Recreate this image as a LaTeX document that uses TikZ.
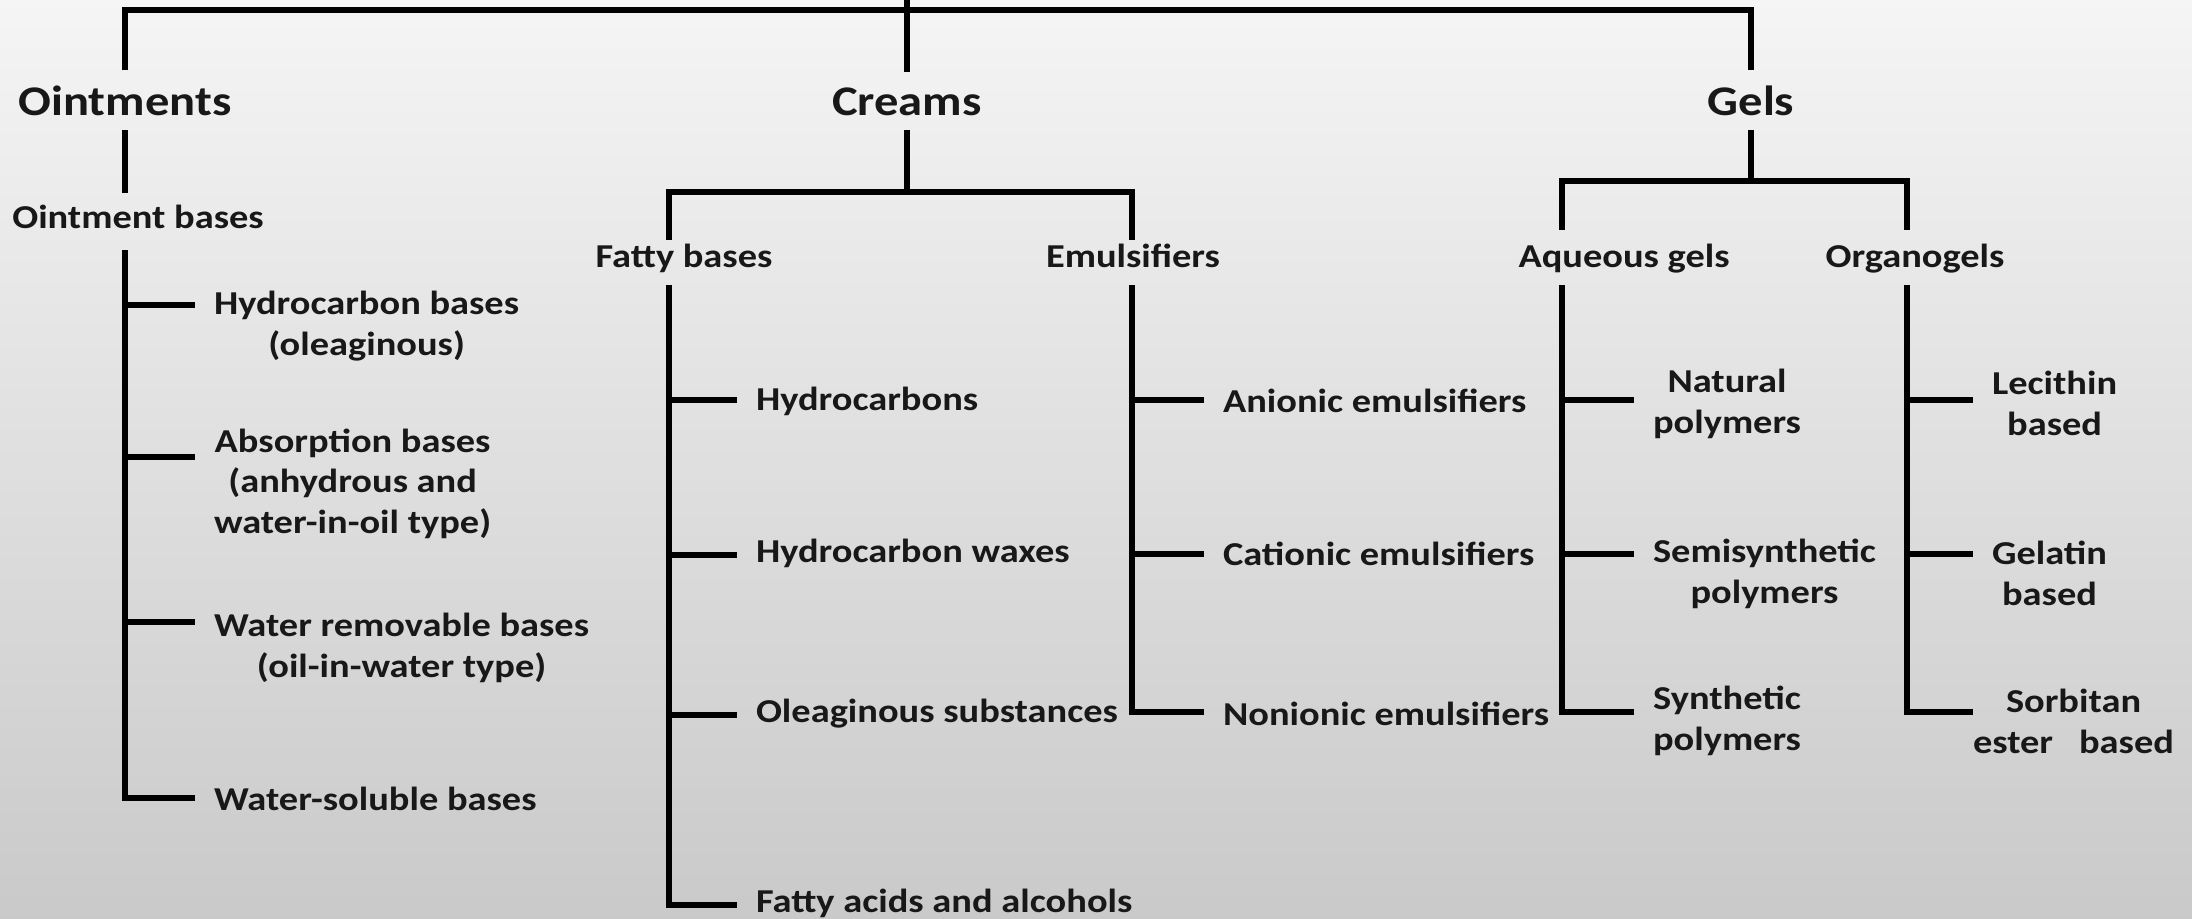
\documentclass[tikz,border=0pt]{standalone}
\usepackage{fontspec}
\setmainfont{Carlito}[FakeStretch=1.15]
\usetikzlibrary{positioning}
\definecolor{ink}{RGB}{24,24,24}
\tikzset{
  catlbl/.style={font=\bfseries\fontsize{12}{14}\selectfont,text=ink,inner sep=0pt,outer sep=0.15cm,anchor=base},
  sublbl/.style={font=\bfseries\fontsize{9.5}{11.4}\selectfont,text=ink,inner sep=0pt,outer sep=0.12cm,anchor=base},
  leaf/.style={font=\bfseries\fontsize{9.5}{11.4}\selectfont,text=ink,inner sep=0pt,outer xsep=0.19cm,align=center,anchor=base west},
  link/.style={draw=black,line width=1.6pt},
}
\begin{document}
\begin{tikzpicture}[x=0.01cm,y=-0.01cm]
% background
\shade[top color=gray!8,bottom color=gray!42] (0,0) rectangle (2192,918);
\useasboundingbox (0,0) rectangle (2192,918);

% dosage forms
\node[catlbl] (oint) at (125,115) {Ointments};
\node[catlbl] (crm) at (907,115) {Creams};
\node[catlbl] (gel) at (1751,115) {Gels};

\coordinate (root) at (907,0);
\coordinate (bar) at (907,10);
\draw[link] (root) -- (crm);
\draw[link] (oint) |- (bar) -| (gel);

% ointments (multi-line labels sit on their last line)
\node[sublbl] (obase) at (138,228) {Ointment bases};
\draw[link] (oint) -- (oint |- obase.north);

\coordinate (ok) at (125,250);
\coordinate (o1) at (125,305);
\coordinate (o2) at (125,457);
\coordinate (o3) at (125,622);
\coordinate (o4) at (125,798);

\node[leaf] (hb) at (195,355) {Hydrocarbon bases\\(oleaginous)};
\node[leaf] (ab) at (195,533) {Absorption bases\\(anhydrous and\\water-in-oil type)};
\node[leaf] (wr) at (195,677) {Water removable bases\\(oil-in-water type)};
\node[leaf] (ws) at (195,810) {Water-soluble bases};

\draw[link] (ok) |- (o4 -| ws.west);
\draw[link] (o1) -- (o1 -| hb.west);
\draw[link] (o2) -- (o2 -| ab.west);
\draw[link] (o3) -- (o3 -| wr.west);

% creams
\coordinate (cj) at (907,192);
\coordinate (fk) at (669,240);
\coordinate (ek) at (1132,240);
\draw[link] (crm) -- (cj);
\draw[link] (fk) |- (cj) -| (ek);

\node[sublbl] (fat) at (684,267) {Fatty bases};
\node[sublbl] (emu) at (1133,267) {Emulsifiers};

\coordinate (ft) at (669,285);
\coordinate (f1) at (669,400);
\coordinate (f2) at (669,555);
\coordinate (f3) at (669,715);
\coordinate (f4) at (669,905);

\node[leaf] (hc) at (737,410) {Hydrocarbons};
\node[leaf] (hw) at (737,562) {Hydrocarbon waxes};
\node[leaf] (ol) at (737,722) {Oleaginous substances};
\node[leaf] (fa) at (737,912) {Fatty acids and alcohols};

\draw[link] (ft) |- (f4 -| fa.west);
\draw[link] (f1) -- (f1 -| hc.west);
\draw[link] (f2) -- (f2 -| hw.west);
\draw[link] (f3) -- (f3 -| ol.west);

\coordinate (et) at (1132,285);
\coordinate (e1) at (1132,400);
\coordinate (e2) at (1132,554);
\coordinate (e3) at (1132,712);

\node[leaf] (an) at (1204,412) {Anionic emulsifiers};
\node[leaf] (ca) at (1204,565) {Cationic emulsifiers};
\node[leaf] (ni) at (1204,725) {Nonionic emulsifiers};

\draw[link] (et) |- (e3 -| ni.west);
\draw[link] (e1) -- (e1 -| an.west);
\draw[link] (e2) -- (e2 -| ca.west);

% gels
\coordinate (gj) at (1751,181);
\coordinate (aqk) at (1562,230);
\coordinate (ogk) at (1907,230);
\draw[link] (gel) -- (gj);
\draw[link] (aqk) |- (gj) -| (ogk);

\node[sublbl] (aqg) at (1624,267) {Aqueous gels};
\node[sublbl] (org) at (1915,267) {Organogels};

\coordinate (at) at (1562,285);
\coordinate (a1) at (1562,400);
\coordinate (a2) at (1562,554);
\coordinate (a3) at (1562,712);

\node[leaf] (np) at (1634,433) {Natural\\polymers};
\node[leaf] (sp) at (1634,603) {Semisynthetic\\polymers};
\node[leaf] (sy) at (1634,750) {Synthetic\\polymers};

\draw[link] (at) |- (a3 -| sy.west);
\draw[link] (a1) -- (a1 -| np.west);
\draw[link] (a2) -- (a2 -| sp.west);

\coordinate (gt) at (1907,285);
\coordinate (g1) at (1907,400);
\coordinate (g2) at (1907,554);
\coordinate (g3) at (1907,712);

\node[leaf] (lb) at (1973,435) {Lecithin\\based};
\node[leaf] (gb) at (1973,605) {Gelatin\\based};
\node[leaf,outer xsep=0pt] (sb) at (1973,753) {Sorbitan\\ester\ \ \ based};

\draw[link] (gt) |- (g3 -| sb.west);
\draw[link] (g1) -- (g1 -| lb.west);
\draw[link] (g2) -- (g2 -| gb.west);
\end{tikzpicture}
\end{document}
